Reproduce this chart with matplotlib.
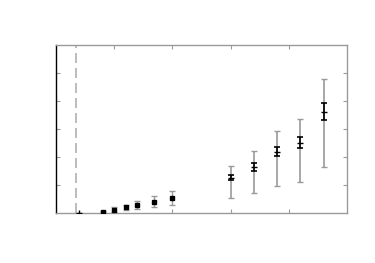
import numpy as np
import matplotlib
matplotlib.use('Agg')
import matplotlib.pyplot as plt

# low-x points: black markers with gray error bars
x_low = [0.8, 1.0, 1.2, 1.4, 1.68, 2.0]
y_low = [0.05, 0.13, 0.21, 0.29, 0.41, 0.55]
err_low = [0.03, 0.08, 0.1, 0.15, 0.2, 0.25]

# high-x points: wide gray range plus narrow black error bar
x_high = [3.0, 3.4, 3.8, 4.2, 4.6]
y_high = [1.27, 1.66, 2.2, 2.53, 3.63]
gray_lo = [0.56, 0.74, 0.99, 1.13, 1.66]
gray_hi = [1.69, 2.24, 2.96, 3.38, 4.79]
black_err = [0.09, 0.15, 0.16, 0.21, 0.3]

# origin point and dashed marker line
x0, y0 = 0.4, 0.0
x_dash = 0.35

gray = '#9a9a9a'

fig = plt.figure(figsize=(3.75, 2.63), dpi=100)
ax = fig.add_axes([0.1493, 0.189, 0.7760, 0.638])

ax.axvline(x_dash, color='#b0b0b0', linestyle=(0, (6, 3)), linewidth=1.2, zorder=1)

ax.errorbar(x_low, y_low, yerr=err_low, fmt='s', color='black', markersize=3.5,
            ecolor=gray, elinewidth=1.0, capsize=2, capthick=1.0, zorder=3)

lo = np.array(y_high) - np.array(gray_lo)
hi = np.array(gray_hi) - np.array(y_high)
ax.errorbar(x_high, y_high, yerr=[lo, hi], fmt='none', ecolor=gray,
            elinewidth=1.2, capsize=2, capthick=1.0, zorder=2)
ax.errorbar(x_high, y_high, yerr=black_err, fmt='_', color='black', markersize=5,
            ecolor='black', elinewidth=1.2, capsize=2.5, capthick=1.2, zorder=3)

ax.plot([x0], [y0], '+', color='black', markersize=4, markeredgewidth=1.0, zorder=3)

ax.set_xlim(0, 5)
ax.set_ylim(0, 6)
ax.set_xticks([1, 2, 3, 4])
ax.set_yticks([1, 2, 3, 4, 5])
ax.tick_params(direction='in', length=3, color=gray, top=True, right=True,
               labelbottom=False, labelleft=False)
for side in ['top', 'right', 'bottom']:
    ax.spines[side].set_color(gray)
    ax.spines[side].set_linewidth(1.0)
ax.spines['left'].set_color('black')
ax.spines['left'].set_linewidth(1.0)

fig.savefig('out.png', dpi=100)
